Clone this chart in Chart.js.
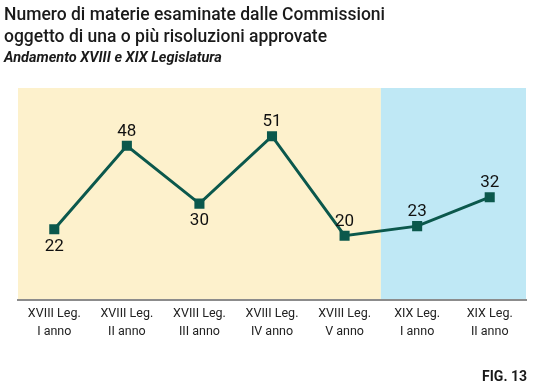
<!DOCTYPE html>
<html>
<head>
<meta charset="utf-8">
<script src="https://cdn.jsdelivr.net/npm/chart.js@4"></script>
<style>
  body { margin: 0; background: #fff; }
  #wrap { position: relative; width: 541px; height: 385px; font-family: Roboto, sans-serif; color: #1a1a1a; }
  #title { position: absolute; left: 4px; top: 3px; font-size: 17.5px; font-weight: 500; line-height: 22px; }
  #sub { position: absolute; left: 4px; top: 49px; font-size: 14.5px; font-weight: 700; font-style: italic; }
  #fig { position: absolute; right: 14px; top: 368px; font-size: 14px; font-weight: 700; }
  canvas { position: absolute; left: 0; top: 0; }
</style>
</head>
<body>
<div id="wrap">
  <canvas id="chart" width="541" height="385"></canvas>
  <div id="title">Numero di materie esaminate dalle Commissioni<br>oggetto di una o più risoluzioni approvate</div>
  <div id="sub">Andamento XVIII e XIX Legislatura</div>
  <div id="fig">FIG. 13</div>
</div>
<script>
const labels = [
  ['XVIII Leg.', 'I anno'],
  ['XVIII Leg.', 'II anno'],
  ['XVIII Leg.', 'III anno'],
  ['XVIII Leg.', 'IV anno'],
  ['XVIII Leg.', 'V anno'],
  ['XIX Leg.', 'I anno'],
  ['XIX Leg.', 'II anno']
];
const values = [22, 48, 30, 51, 20, 23, 32];
const labelSide = ['below', 'above', 'below', 'above', 'above', 'above', 'above'];
const xviiiCount = 5;

// sfondo giallo per la XVIII, azzurro per la XIX
const bands = {
  id: 'bands',
  beforeDraw(chart) {
    const { ctx, chartArea: a, scales: { x } } = chart;
    const step = x.getPixelForValue(1) - x.getPixelForValue(0);
    const split = x.getPixelForValue(xviiiCount - 1) + step / 2;
    ctx.save();
    ctx.fillStyle = '#fdf1cc';
    ctx.fillRect(a.left, a.top, split - a.left, a.bottom - a.top);
    ctx.fillStyle = '#bfe8f5';
    ctx.fillRect(split, a.top, a.right - split, a.bottom - a.top);
    ctx.restore();
  }
};

const valueLabels = {
  id: 'valueLabels',
  afterDatasetsDraw(chart) {
    const { ctx } = chart;
    const meta = chart.getDatasetMeta(0);
    ctx.save();
    ctx.font = '17px Roboto, sans-serif';
    ctx.fillStyle = '#111';
    ctx.textAlign = 'center';
    meta.data.forEach((pt, i) => {
      if (labelSide[i] === 'below') {
        ctx.textBaseline = 'top';
        ctx.fillText(values[i], pt.x, pt.y + 9);
      } else {
        ctx.textBaseline = 'bottom';
        ctx.fillText(values[i], pt.x, pt.y - 6);
      }
    });
    ctx.restore();
  }
};

new Chart(document.getElementById('chart'), {
  type: 'line',
  data: {
    labels: labels,
    datasets: [{
      data: values,
      borderColor: '#0b584c',
      backgroundColor: '#0b584c',
      borderWidth: 3,
      pointStyle: 'rect',
      pointRadius: 5,
      pointHoverRadius: 5,
      tension: 0
    }]
  },
  options: {
    responsive: false,
    animation: false,
    layout: { padding: { left: 18, right: 15, top: 88, bottom: 0 } },
    plugins: { legend: { display: false }, tooltip: { enabled: false } },
    scales: {
      x: {
        offset: true,
        grid: { display: false, drawTicks: false },
        border: { color: '#8c8c8c', width: 2 },
        ticks: { color: '#222', font: { family: 'Roboto', size: 12.5, lineHeight: 1.45 }, padding: 5, maxRotation: 0, autoSkip: false },
        afterFit(s) { s.height = 85; }
      },
      y: { display: false, min: 0, max: 66 }
    }
  },
  plugins: [bands, valueLabels]
});
</script>
</body>
</html>
